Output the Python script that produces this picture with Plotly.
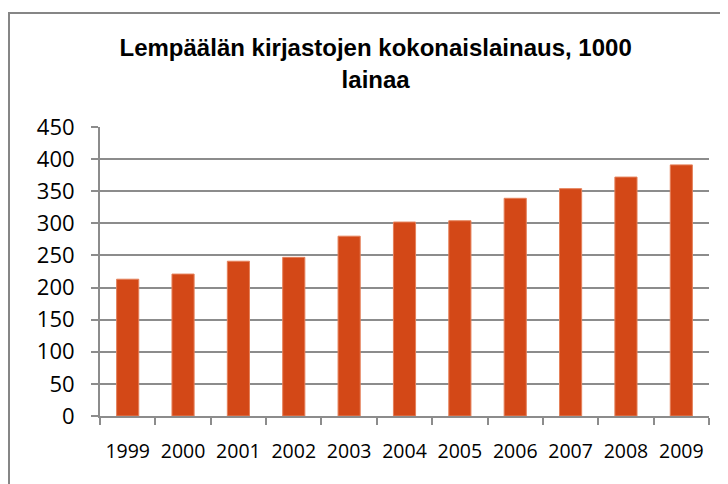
import plotly.graph_objects as go

YEARS = ["1999", "2000", "2001", "2002", "2003", "2004", "2005", "2006", "2007", "2008", "2009"]
LOANS = [213, 221, 241, 247, 280, 302, 304, 339, 354, 372, 391]
Y_TICKS = [0, 50, 100, 150, 200, 250, 300, 350, 400, 450]

TITLE = "Lempäälän kirjastojen kokonaislainaus, 1000<br>lainaa"
BAR_COLOR = "#D34817"
GRID = "#8C8C8C"

fig = go.Figure(go.Bar(
    x=YEARS, y=LOANS, marker_color=BAR_COLOR,
    marker_line=dict(color="#E5805A", width=1),
))

# page body adds 8px offset, margins account for that
fig.update_layout(
    width=728, height=484,
    margin=dict(l=92, r=27, t=119, b=76, autoexpand=False),
    paper_bgcolor="white", plot_bgcolor="white",
    bargap=0.6, showlegend=False,
    title=dict(text=f"<b>{TITLE}</b>", x=0.505, xanchor="center", y=0.9, yanchor="top",
               font=dict(family="Liberation Sans Narrow, Liberation Sans, Arial", size=24, color="black")),
    font=dict(family="Open Sans, DejaVu Sans, Arial", color="black"),
)

fig.update_xaxes(showline=True, linecolor=GRID, linewidth=2, ticks="outside", tickson="boundaries",
                 ticklen=7, tickcolor=GRID, tickwidth=2, tickfont=dict(size=19.5),
                 ticklabelstandoff=17, automargin=False)
fig.update_yaxes(range=[0, 450], tickvals=Y_TICKS, showgrid=True, gridcolor=GRID, gridwidth=2,
                 showline=True, linecolor=GRID, linewidth=2, ticks="outside", ticklen=7,
                 tickcolor=GRID, tickwidth=2, tickfont=dict(size=22), zeroline=False,
                 ticklabelstandoff=12, automargin=False)

# chart border as an empty bordered annotation box (right/bottom run off the page)
fig.add_annotation(text="", xref="paper", yref="paper", x=-0.151, y=1.398,
                   xanchor="left", yanchor="top", showarrow=False,
                   width=760, height=520, borderpad=0,
                   bordercolor="#868686", borderwidth=2)

fig.write_html("out.html")
